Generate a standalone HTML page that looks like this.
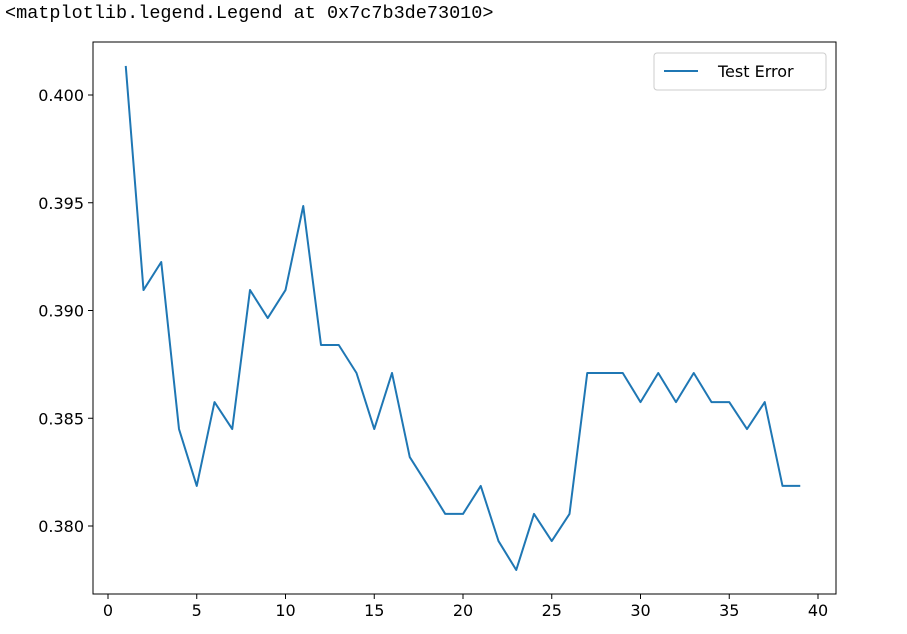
<!DOCTYPE html>
<html><head><meta charset="utf-8"><style>
body{margin:0;background:#fff;width:907px;height:634px;overflow:hidden;position:relative}
#out{position:absolute;left:5px;top:3px;font-family:"Liberation Mono",monospace;font-size:18.5px;color:#000;white-space:pre}
svg{position:absolute;left:0;top:0}
text{font-family:"DejaVu Sans","Liberation Sans",sans-serif;font-size:16px;fill:#000}
</style></head><body>
<div id="out">&lt;matplotlib.legend.Legend at 0x7c7b3de73010&gt;</div>
<svg id="c" width="907" height="634"></svg>
<script>
const xs=[1,2,3,4,5,6,7,8,9,10,11,12,13,14,15,16,17,18,19,20,21,22,23,24,25,26,27,28,29,30,31,32,33,34,35,36,37,38,39];
const testError=[0.40135,0.39095,0.39225,0.3845,0.38186,0.38575,0.3845,0.39095,0.38965,0.39095,0.39485,0.3884,0.3884,0.3871,0.3845,0.3871,0.3832,0.3819,0.38056,0.38056,0.38186,0.3793,0.37796,0.38056,0.3793,0.38056,0.3871,0.3871,0.3871,0.38575,0.3871,0.38575,0.3871,0.38575,0.38575,0.3845,0.38575,0.38186,0.38186];
const xTicks=[0,5,10,15,20,25,30,35,40];
const yTicks=[0.380,0.385,0.390,0.395,0.400];
const yLabels=["0.380","0.385","0.390","0.395","0.400"];
const L=93,R=836,T=42,B=594;
const X=v=>108+17.75*v;
const Y=v=>526-(v-0.380)*21550;
const svg=document.getElementById('c');const NS='http://www.w3.org/2000/svg';
function mk(t,a,p){const e=document.createElementNS(NS,t);for(const k in a)e.setAttribute(k,a[k]);(p||svg).appendChild(e);return e;}
const frame=mk('rect',{x:L,y:T,width:R-L,height:B-T,fill:'none',stroke:'#000','stroke-width':1});


xTicks.forEach(v=>{
 const tk=mk('line',{x1:X(v),x2:X(v),y1:B,y2:B+5,stroke:'#000'});
 
 
 const t=mk('text',{x:X(v),y:B+22,'text-anchor':'middle'});t.textContent=v;
 
 
});
yTicks.forEach((v,i)=>{
 const tk=mk('line',{x1:L-5,x2:L,y1:Y(v),y2:Y(v),stroke:'#000'});
 
 
 const t=mk('text',{x:L-9,y:Y(v)+6,'text-anchor':'end'});t.textContent=yLabels[i];
 
 
});
const line=mk('polyline',{points:xs.map((x,i)=>X(x)+','+Y(testError[i])).join(' '),fill:'none',stroke:'#1f77b4','stroke-width':2,'stroke-linejoin':'round'});


const lg=mk('g',{});


mk('rect',{x:654,y:53,width:172,height:37,rx:3,fill:'#fff',stroke:'#ccc'},lg);
mk('line',{x1:664,x2:698,y1:71,y2:71,stroke:'#1f77b4','stroke-width':2},lg);
const lt=mk('text',{x:718,y:77},lg);lt.textContent='Test Error';


</script>
</body></html>
